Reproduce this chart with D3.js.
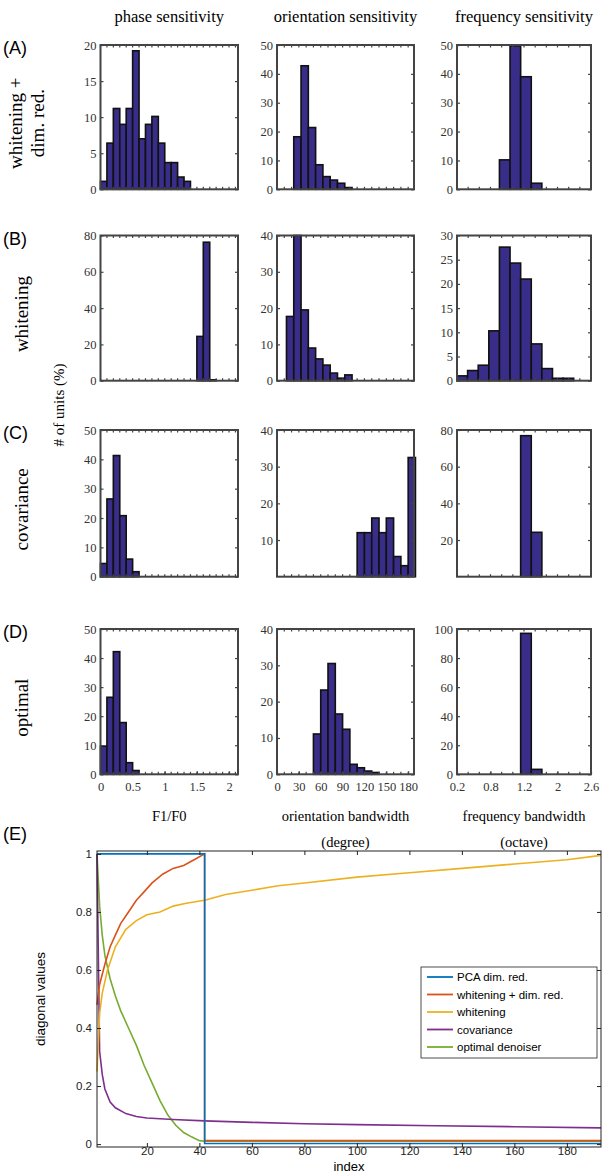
<!DOCTYPE html>
<html>
<head>
<meta charset="utf-8">
<script src="https://cdn.jsdelivr.net/npm/d3@7"></script>
<style>
  body { margin: 0; background: #fff; }
  .serif { font-family: "Liberation Serif", "DejaVu Serif", serif; }
  .sans { font-family: "Liberation Sans", Arial, sans-serif; }
</style>
</head>
<body>
<div id="chart"></div>
<script>
// ---------------- data ----------------
var colTitles = ["phase sensitivity", "orientation sensitivity", "frequency sensitivity"];
var rowTags = ["(A)", "(B)", "(C)", "(D)"];
var rowNames = [["whitening +", "dim. red."], ["whitening"], ["covariance"], ["optimal"]];

// phase sensitivity (F1/F0), bin width 0.1, first bin start per row
var phaseWidth = 0.1;
var phaseStart = [0, 1.5, 0, 0];
var phaseA = [1.1, 6.4, 11.2, 9, 11.2, 19.2, 7, 9, 10.1, 6.4, 3.7, 3.7, 1.7, 1.1];
var phaseB = [24.4, 76.3, 0.5];
var phaseC = [4.5, 26.5, 41.3, 20.8, 6, 1.7];
var phaseD = [9.7, 26.5, 42.2, 17.8, 4, 1.3];

// orientation bandwidth (degree), bin width 10
var orientWidth = 10;
var orientStart = [23, 13, 110, 50];
var orientA = [18.2, 42.8, 21.4, 8.5, 4.4, 3.2, 2.1, 0.6];
var orientB = [17.7, 40, 19.5, 9, 6, 4.3, 2.1, 0.7, 1.6];
var orientC = [12, 12, 16, 12, 16, 5.5, 3, 32.5];
var orientD = [11.1, 23.2, 30.5, 16.6, 12.4, 2.75, 1.8, 0.9, 0.5];

// frequency bandwidth (octave), bin width 0.19
var freqWidth = 0.19;
var freqStart = [0.96, 0.2, 1.34, 1.34];
var freqA = [10.2, 49.7, 39, 2.1];
var freqB = [1, 2.1, 3.2, 10.3, 27.6, 24.3, 21, 7.6, 2.5, 0.5, 0.5];
var freqC = [76.9, 24.2];
var freqD = [97, 3.4];

// y axis maxima / steps per panel [row][col]
var yMax = [[20, 50, 50], [80, 40, 30], [50, 40, 80], [50, 40, 100]];
var yStep = [[5, 10, 10], [20, 10, 5], [10, 10, 20], [10, 10, 20]];
var yHideZero = [[false, false, false], [false, false, false], [false, true, true], [false, false, false]];

var colDomains = [[0, 2.14], [0, 188], [0.2, 2.6]];
var colMinor = [0.1, 10, 0.2];
var colTicks = [[0, 0.5, 1, 1.5, 2], [0, 30, 60, 90, 120, 150, 180], [0.2, 0.8, 1.4, 2, 2.6]];
var colTickLabels = [["0", "0.5", "1", "1.5", "2"],
                     ["0", "30", "60", "90", "120", "150", "180"],
                     ["0.2", "0.8", "1.2", "2", "2.6"]];
var xLabels = [["F1/F0"], ["orientation bandwidth", "(degree)"], ["frequency bandwidth", "(octave)"]];

// panel E: diagonal values vs index
var seriesNames = ["PCA dim. red.", "whitening + dim. red.", "whitening", "covariance", "optimal denoiser"];
var seriesColors = ["#0072BD", "#D95319", "#EDB120", "#7E2F8E", "#77AC30"];
var pcaIdx = [1, 42, 42, 193];
var pcaVal = [1, 1, 0.002, 0.002];
var whdrIdx = [1, 2, 4, 6, 8, 10, 13, 16, 19, 22, 26, 30, 34, 38, 42, 42, 193];
var whdrVal = [0.48, 0.55, 0.62, 0.68, 0.72, 0.76, 0.8, 0.84, 0.87, 0.9, 0.93, 0.95, 0.96, 0.98, 1.0, 0.012, 0.012];
var whIdx = [1, 2, 3, 5, 8, 12, 16, 20, 25, 30, 35, 42, 50, 60, 70, 80, 100, 120, 140, 160, 180, 193];
var whVal = [0.25, 0.45, 0.52, 0.6, 0.68, 0.74, 0.77, 0.79, 0.8, 0.82, 0.83, 0.84, 0.86, 0.875, 0.89, 0.9, 0.92, 0.935, 0.95, 0.965, 0.98, 0.995];
var covIdx = [1, 2, 3, 4, 6, 8, 12, 16, 20, 30, 42, 60, 80, 100, 130, 160, 193];
var covVal = [1, 0.32, 0.24, 0.19, 0.145, 0.125, 0.105, 0.095, 0.09, 0.085, 0.08, 0.075, 0.07, 0.067, 0.063, 0.06, 0.056];
var optIdx = [1, 2, 3, 4, 6, 8, 10, 13, 16, 19, 22, 25, 28, 31, 34, 37, 40, 42, 193];
var optVal = [1, 0.82, 0.72, 0.65, 0.57, 0.51, 0.46, 0.4, 0.34, 0.27, 0.21, 0.15, 0.1, 0.065, 0.04, 0.025, 0.012, 0.01, 0.01];
var eXTicks = [20, 40, 60, 80, 100, 120, 140, 160, 180];
var eYTicks = [0, 0.2, 0.4, 0.6, 0.8, 1];

// ---------------- layout ----------------
var colX = [[100.5, 238], [277, 414], [457, 591]];
var rowY = [[45, 189.3], [235.5, 380.7], [430, 576.7], [629, 774.3]];
var barFill = "#392d8a";
var frameColor = "#444";

var phaseData = [phaseA, phaseB, phaseC, phaseD];
var orientData = [orientA, orientB, orientC, orientD];
var freqData = [freqA, freqB, freqC, freqD];
var allData = [phaseData, orientData, freqData];
var allStart = [phaseStart, orientStart, freqStart];
var allWidth = [phaseWidth, orientWidth, freqWidth];

var svg = d3.select("#chart").append("svg")
  .attr("width", 612).attr("height", 1172);

// column titles
colTitles.forEach(function(t, c) {
  svg.append("text").attr("class", "serif")
    .attr("x", (colX[c][0] + colX[c][1]) / 2).attr("y", 22)
    .attr("text-anchor", "middle").style("font-size", "16.5px")
    .text(t);
});

// row tags and names
rowTags.forEach(function(t, r) {
  svg.append("text").attr("class", "sans")
    .attr("x", 3).attr("y", rowY[r][0] + 9)
    .style("font-size", "18px").text(t);
  var cy = (rowY[r][0] + rowY[r][1]) / 2 + 6;
  var lines = rowNames[r];
  lines.forEach(function(l, i) {
    var lx = lines.length == 2 ? 22 + i * 22 : 28;
    svg.append("text").attr("class", "serif")
      .attr("transform", "translate(" + lx + "," + cy + ") rotate(-90)")
      .attr("text-anchor", "middle").style("font-size", "19px")
      .text(l);
  });
});

svg.append("text").attr("class", "serif")
  .attr("transform", "translate(64,405) rotate(-90)")
  .attr("text-anchor", "middle").style("font-size", "15px")
  .text("# of units (%)");

// histograms
for (var r = 0; r < 4; r++) {
  for (var c = 0; c < 3; c++) {
    drawHist(r, c);
  }
}

function drawHist(r, c) {
  var x = d3.scaleLinear().domain(colDomains[c]).range(colX[c]);
  var y = d3.scaleLinear().domain([0, yMax[r][c]]).range([rowY[r][1], rowY[r][0]]);
  var g = svg.append("g");
  var vals = allData[c][r];
  var start = allStart[c][r];
  var w = allWidth[c];

  g.selectAll("rect.bar")
    .data(vals)
    .enter().append("rect")
    .attr("class", "bar")
    .attr("x", function(d, i) { return x(start + i * w); })
    .attr("width", function(d, i) { return x(start + (i + 1) * w) - x(start + i * w); })
    .attr("y", function(d) { return y(d); })
    .attr("height", function(d) { return y(0) - y(d); })
    .attr("fill", barFill)
    .attr("stroke", "#111")
    .attr("stroke-width", 1.6);

  // minor ticks on top and bottom
  var minor = d3.range(colDomains[c][0], colDomains[c][1] + 1e-9, colMinor[c]);
  var tb = g.append("g").attr("stroke", frameColor).attr("stroke-width", 1.2);
  minor.forEach(function(v) {
    tb.append("line").attr("x1", x(v)).attr("x2", x(v))
      .attr("y1", rowY[r][1]).attr("y2", rowY[r][1] - 2.5);
    tb.append("line").attr("x1", x(v)).attr("x2", x(v))
      .attr("y1", rowY[r][0]).attr("y2", rowY[r][0] + 2.5);
  });

  // y axis left (labels) and right (ticks)
  var yt = d3.range(0, yMax[r][c] + 1e-9, yStep[r][c]);
  if (yHideZero[r][c]) yt = yt.slice(1);
  var ax = g.append("g")
    .attr("transform", "translate(" + colX[c][0] + ",0)")
    .call(d3.axisLeft(y).tickValues(yt).tickSize(-3).tickPadding(4).tickFormat(d3.format("d")));
  ax.select(".domain").remove();
  ax.selectAll("line").attr("stroke", frameColor).attr("stroke-width", 1.2);
  ax.selectAll("text").attr("class", "serif").style("font-size", "12.5px").attr("fill", "#333");
  var axr = g.append("g")
    .attr("transform", "translate(" + colX[c][1] + ",0)")
    .call(d3.axisRight(y).tickValues(yt).tickSize(-3).tickFormat(""));
  axr.select(".domain").remove();
  axr.selectAll("line").attr("stroke", frameColor).attr("stroke-width", 1.2);

  // x tick labels on the bottom row
  if (r == 3) {
    var axb = g.append("g")
      .attr("transform", "translate(0," + rowY[r][1] + ")")
      .call(d3.axisBottom(x).tickValues(colTicks[c]).tickSize(-3).tickPadding(8)
        .tickFormat(function(d, i) { return colTickLabels[c][i]; }));
    axb.select(".domain").remove();
    axb.selectAll("line").attr("stroke", frameColor).attr("stroke-width", 1.2);
    axb.selectAll("text").attr("class", "serif").style("font-size", "12.5px").attr("fill", "#333");

    xLabels[c].forEach(function(l, i) {
      svg.append("text").attr("class", "serif")
        .attr("x", (colX[c][0] + colX[c][1]) / 2).attr("y", 821 + i * 26)
        .attr("text-anchor", "middle").style("font-size", "14.5px")
        .text(l);
    });
  }

  // frame
  g.append("rect")
    .attr("x", colX[c][0]).attr("y", rowY[r][0])
    .attr("width", colX[c][1] - colX[c][0]).attr("height", rowY[r][1] - rowY[r][0])
    .attr("fill", "none").attr("stroke", frameColor).attr("stroke-width", 2);
}

// ---------------- panel E ----------------
var ePos = {left: 97, right: 601, top: 851, bottom: 1147};
var ex = d3.scaleLinear().domain([1, 193]).range([ePos.left, ePos.right]);
var ey = d3.scaleLinear().domain([-0.01, 1.01]).range([ePos.bottom, ePos.top]);

svg.append("text").attr("class", "sans")
  .attr("x", 3).attr("y", 840).style("font-size", "18px").text("(E)");

var eg = svg.append("g");

var seriesIdx = [pcaIdx, whdrIdx, whIdx, covIdx, optIdx];
var seriesVal = [pcaVal, whdrVal, whVal, covVal, optVal];
var line = d3.line()
  .x(function(d) { return ex(d[0]); })
  .y(function(d) { return ey(d[1]); });

// draw order: optimal, covariance, whitening, whitening+dr, PCA on top
[4, 3, 2, 1, 0].forEach(function(s) {
  var pts = seriesIdx[s].map(function(v, i) { return [v, seriesVal[s][i]]; });
  eg.append("path").datum(pts)
    .attr("d", line)
    .attr("fill", "none")
    .attr("stroke", seriesColors[s])
    .attr("stroke-width", 1.6);
});

var exAx = eg.append("g")
  .attr("transform", "translate(0," + ePos.bottom + ")")
  .call(d3.axisBottom(ex).tickValues(eXTicks).tickSize(-4).tickPadding(0));
var eyAx = eg.append("g")
  .attr("transform", "translate(" + ePos.left + ",0)")
  .call(d3.axisLeft(ey).tickValues(eYTicks).tickSize(-4).tickPadding(5).tickFormat(d3.format("")));
[exAx, eyAx].forEach(function(a) {
  a.select(".domain").remove();
  a.selectAll("line").attr("stroke", "#222");
  a.selectAll("text").attr("class", "sans").style("font-size", "11.5px").attr("fill", "#222");
});
var exTop = eg.append("g").attr("transform", "translate(0," + ePos.top + ")")
  .call(d3.axisTop(ex).tickValues(eXTicks).tickSize(-4).tickFormat(""));
var eyRight = eg.append("g").attr("transform", "translate(" + ePos.right + ",0)")
  .call(d3.axisRight(ey).tickValues(eYTicks).tickSize(-4).tickFormat(""));
[exTop, eyRight].forEach(function(a) {
  a.select(".domain").remove();
  a.selectAll("line").attr("stroke", "#222");
});
eg.append("rect")
  .attr("x", ePos.left).attr("y", ePos.top)
  .attr("width", ePos.right - ePos.left).attr("height", ePos.bottom - ePos.top)
  .attr("fill", "none").attr("stroke", "#222").attr("stroke-width", 1);

svg.append("text").attr("class", "sans")
  .attr("transform", "translate(45," + (ePos.top + ePos.bottom) / 2 + ") rotate(-90)")
  .attr("text-anchor", "middle").style("font-size", "13.5px")
  .text("diagonal values");
svg.append("text").attr("class", "sans")
  .attr("x", (ePos.left + ePos.right) / 2).attr("y", 1170.5)
  .attr("text-anchor", "middle").style("font-size", "13px")
  .text("index");

// legend
var lg = svg.append("g").attr("transform", "translate(421,967)");
lg.append("rect").attr("width", 176).attr("height", 91)
  .attr("fill", "#fff").attr("stroke", "#222").attr("stroke-width", 0.8);
seriesNames.forEach(function(n, i) {
  var yy = 10 + i * 17.5;
  lg.append("line").attr("x1", 6).attr("x2", 32).attr("y1", yy).attr("y2", yy)
    .attr("stroke", seriesColors[i]).attr("stroke-width", 1.8);
  lg.append("text").attr("class", "sans")
    .attr("x", 36).attr("y", yy + 4).style("font-size", "11.5px")
    .text(n);
});
</script>
</body>
</html>
